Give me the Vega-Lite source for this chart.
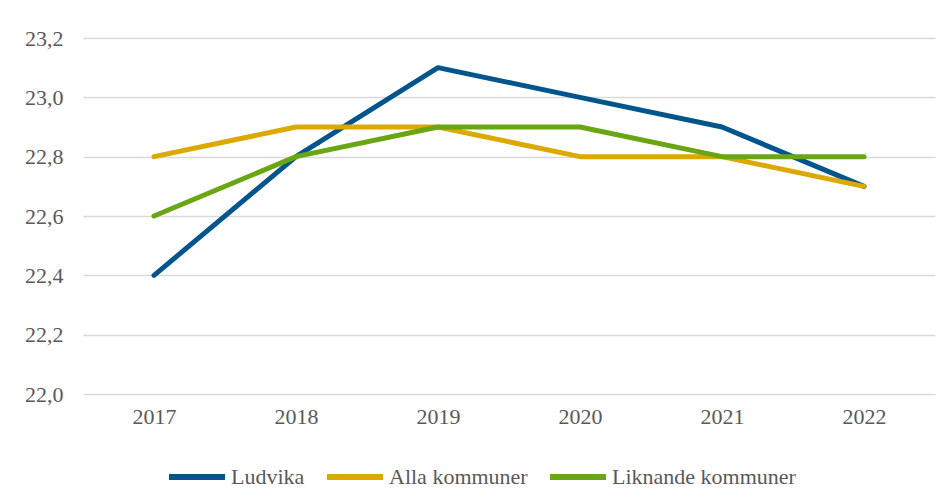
{
  "$schema": "https://vega.github.io/schema/vega-lite/v6.json",
  "autosize": "none",
  "width": 852,
  "height": 356,
  "padding": {"left": 83, "top": 38, "right": 17, "bottom": 106},
  "background": "white",
  "data": {"values": [
    {"year": "2017", "series": "Ludvika", "value": 22.4},
    {"year": "2018", "series": "Ludvika", "value": 22.8},
    {"year": "2019", "series": "Ludvika", "value": 23.1},
    {"year": "2020", "series": "Ludvika", "value": 23.0},
    {"year": "2021", "series": "Ludvika", "value": 22.9},
    {"year": "2022", "series": "Ludvika", "value": 22.7},
    {"year": "2017", "series": "Alla kommuner", "value": 22.8},
    {"year": "2018", "series": "Alla kommuner", "value": 22.9},
    {"year": "2019", "series": "Alla kommuner", "value": 22.9},
    {"year": "2020", "series": "Alla kommuner", "value": 22.8},
    {"year": "2021", "series": "Alla kommuner", "value": 22.8},
    {"year": "2022", "series": "Alla kommuner", "value": 22.7},
    {"year": "2017", "series": "Liknande kommuner", "value": 22.6},
    {"year": "2018", "series": "Liknande kommuner", "value": 22.8},
    {"year": "2019", "series": "Liknande kommuner", "value": 22.9},
    {"year": "2020", "series": "Liknande kommuner", "value": 22.9},
    {"year": "2021", "series": "Liknande kommuner", "value": 22.8},
    {"year": "2022", "series": "Liknande kommuner", "value": 22.8}
  ]},
  "mark": {"type": "line", "strokeWidth": 5, "strokeCap": "round", "strokeJoin": "round"},
  "encoding": {
    "x": {
      "field": "year", "type": "ordinal",
      "scale": {"type": "point", "padding": 0.5},
      "axis": {"title": null, "labelAngle": 0, "domain": false, "ticks": false, "grid": false, "labelPadding": 12, "labelFontSize": 22, "labelFont": "Liberation Serif, DejaVu Serif, serif", "labelColor": "#595959"}
    },
    "y": {
      "field": "value", "type": "quantitative",
      "scale": {"domain": [22.0, 23.2], "nice": false, "zero": false},
      "axis": {"title": null, "values": [22.0, 22.2, 22.4, 22.6, 22.8, 23.0, 23.2], "labelExpr": "replace(format(datum.value, '.1f'), '.', ',')", "domain": false, "ticks": false, "grid": true, "gridColor": "#d9d9d9", "gridWidth": 1.5, "labelPadding": 20, "labelFontSize": 22, "labelFont": "Liberation Serif, DejaVu Serif, serif", "labelColor": "#595959"}
    },
    "color": {
      "field": "series", "type": "nominal",
      "scale": {"domain": ["Ludvika", "Alla kommuner", "Liknande kommuner"], "range": ["#00558C", "#DBA900", "#6AA514"]},
      "legend": {
        "title": null, "orient": "none", "direction": "horizontal", "legendX": 83, "legendY": 408,
        "symbolType": "stroke", "symbolSize": 3136, "symbolStrokeWidth": 6,
        "labelFont": "Liberation Serif, DejaVu Serif, serif", "labelFontSize": 22, "labelColor": "#595959", "labelOffset": 3, "labelLimit": 400, "columnPadding": 10
      }
    }
  },
  "config": {"view": {"stroke": null}}
}
